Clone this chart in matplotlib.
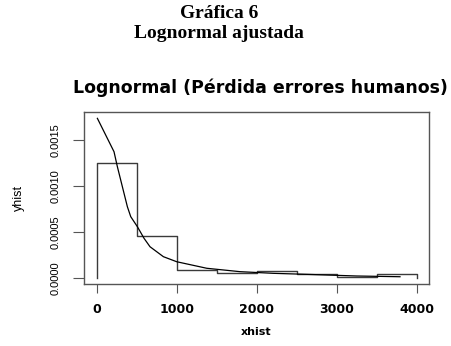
import numpy as np
import matplotlib
matplotlib.use("Agg")
import matplotlib.pyplot as plt

# histogram densities (bins of width 500)
bin_edges = [0, 500, 1000, 1500, 2000, 2500, 3000, 3500, 4000]
yhist = [0.001257, 0.000463, 0.00009, 0.000054, 0.000083, 0.000043, 0.000011, 0.000043]

# fitted lognormal curve
xcurve = [8, 216, 258, 383, 425, 508, 591, 666, 833, 1000, 1375, 1791, 2208, 2625, 3250, 3791]
ycurve = [0.001739, 0.001376, 0.001213, 0.000778, 0.00067, 0.000561, 0.000435, 0.000343,
          0.000235, 0.00018, 0.000109, 0.000072, 0.000054, 0.000043, 0.000025, 0.000017]

xticks = [0, 1000, 2000, 3000, 4000]
yticks = [0.0, 0.0005, 0.0010, 0.0015]
ytick_labels = ["0.0000", "0.0005", "0.0010", "0.0015"]

fig = plt.figure(figsize=(4.51, 3.46), dpi=100)
ax = fig.add_axes([0.1863, 0.1792, 0.7650, 0.4971])

# step outline, vertical lines down to zero at both ends
xs = [bin_edges[0]]
ys = [0]
for i, v in enumerate(yhist):
    xs += [bin_edges[i], bin_edges[i + 1]]
    ys += [v, v]
xs.append(bin_edges[-1])
ys.append(0)
ax.plot(xs, ys, color="#3a3a3a", lw=1.0)
ax.plot(xcurve, ycurve, color="black", lw=0.9)

ax.set_xlim(-159, 4154)
ax.set_ylim(-0.000062, 0.001808)

ax.set_xticks(xticks)
ax.set_xticklabels([str(t) for t in xticks], family="DejaVu Sans", fontweight="bold", fontsize=9)
ax.set_yticks(yticks)
ax.set_yticklabels(ytick_labels, rotation=90, va="center",
                   family="Liberation Sans", fontsize=8)
ax.tick_params(axis="x", length=6.5, pad=7, color="#555555")
ax.tick_params(axis="y", length=8, pad=9, color="#555555")
for s in ax.spines.values():
    s.set_color("#555555")
    s.set_linewidth(1.0)

ax.set_xlabel("xhist", family="DejaVu Sans", fontweight="bold", fontsize=8, labelpad=8)
ax.set_ylabel("yhist", family="Liberation Sans", fontsize=9, labelpad=18)
ax.set_title("Lognormal (Pérdida errores humanos)", family="DejaVu Sans",
             fontweight="bold", fontsize=12.5, pad=14, x=0.51)

fig.text(219 / 451, 1 - 13 / 346, "Gráfica 6", ha="center", va="center",
         family="Liberation Serif", fontweight="bold", fontsize=14)
fig.text(219 / 451, 1 - 34 / 346, "Lognormal ajustada", ha="center", va="center",
         family="Liberation Serif", fontweight="bold", fontsize=14)

fig.savefig("out.png", dpi=100)
